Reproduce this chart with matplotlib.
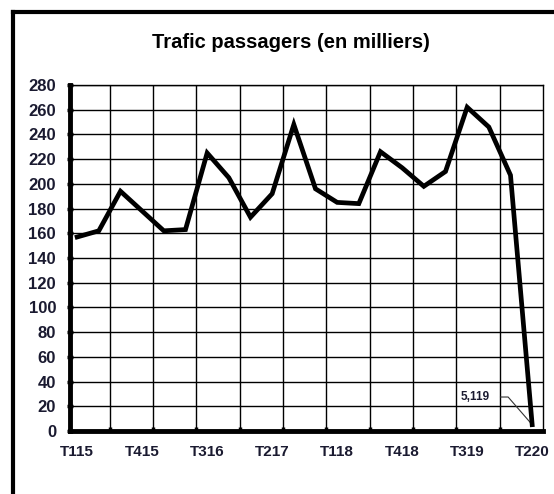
import matplotlib
matplotlib.use("Agg")
import matplotlib.pyplot as plt
from matplotlib.lines import Line2D

# Data
quarters = ["T115", "T215", "T315", "T415", "T116", "T216", "T316", "T416",
            "T117", "T217", "T317", "T417", "T118", "T218", "T318", "T418",
            "T119", "T219", "T319", "T419", "T120", "T220"]
traffic = [157, 162, 194, 178, 162, 163, 225, 205, 173, 192, 248, 196,
           185, 184, 226, 213, 198, 210, 262, 246, 207, 5.119]
label_step = 3
title = "Trafic passagers (en milliers)"
last_label = "5,119"

plt.rcParams['font.family'] = ['Liberation Sans', 'DejaVu Sans']

fig = plt.figure(figsize=(5.54, 4.94), dpi=100)
ax = fig.add_axes([70/554, 63/494, (543-70)/554, (431-85)/494])

x = list(range(len(traffic)))
ax.plot(x, traffic, color='black', lw=3.4, solid_joinstyle='miter', zorder=5)

ax.set_xlim(-0.33, 21.5)
ax.set_ylim(0, 280)
ax.set_yticks(range(0, 281, 20))
ax.set_xticks(x[::label_step])
ax.set_xticklabels(quarters[::label_step])
ax.set_xticks([1.5 + 2*k for k in range(10)], minor=True)

ax.grid(True, which='major', axis='y', color='black', lw=1.0)
ax.grid(True, which='minor', axis='x', color='black', lw=1.0)
ax.tick_params(axis='x', which='major', length=0, pad=10, labelsize=11)
ax.tick_params(axis='x', which='minor', direction='in', length=3, width=2.5)
ax.tick_params(axis='y', which='major', direction='inout', length=4, width=2.5, pad=8, labelsize=12)
for lab in ax.get_xticklabels() + ax.get_yticklabels():
    lab.set_fontweight('bold')
    lab.set_color('#1a1a30')

for s in ['left', 'bottom']:
    ax.spines[s].set_linewidth(3.5)
for s in ['top', 'right']:
    ax.spines[s].set_linewidth(1.0)

ax.annotate(last_label, xy=(x[-1], traffic[-1]), xytext=(18.35, 27.5),
            fontsize=8.5, fontweight='bold', ha='center', va='center', color='#1a1a30',
            arrowprops=dict(arrowstyle='-', lw=0.8, color='#333333', shrinkA=6, shrinkB=0,
                            relpos=(1, 0.5),
                            connectionstyle='angle,angleA=0,angleB=131,rad=0'))

fig.text(291/554, 1 - 42/494, title, ha='center', va='center', fontsize=14.5,
         fontweight='bold')

# decorative frame (left and top)
fig.add_artist(Line2D([13/554, 13/554], [0, 1 - 12/494], transform=fig.transFigure,
                      color='black', lw=3))
fig.add_artist(Line2D([13/554, 1], [1 - 12/494, 1 - 12/494], transform=fig.transFigure,
                      color='black', lw=3))

fig.savefig("out.png", dpi=100)
